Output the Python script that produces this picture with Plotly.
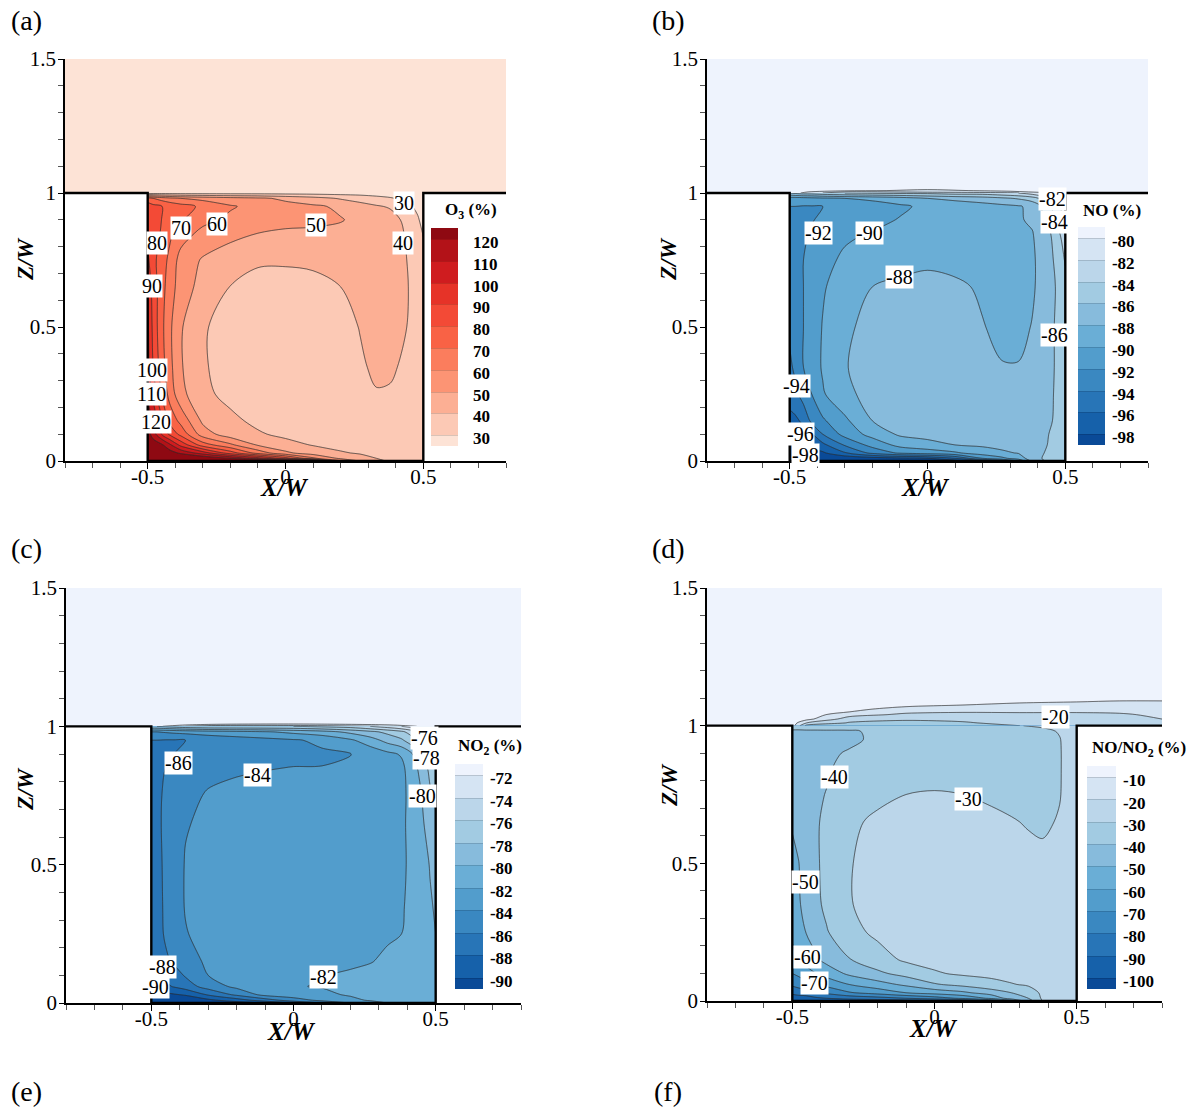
import plotly.graph_objects as go

W, H = 1197, 1110
FONT = "Liberation Serif"

REDS = ["#FDE3D6", "#FCC9B5", "#FCAF94", "#FC9474", "#FB7D5D", "#F96245",
        "#F34A36", "#E63328", "#CF1C1F", "#B31218", "#8E0912"]
BLUES = ["#0A4A97", "#1661AA", "#2875B7", "#3A88C1", "#529DCC", "#6AAED6",
         "#87BBDC", "#A2CBE2", "#BBD6EA", "#D5E4F3", "#EEF3FD"]

X_CANYON = [-.5, -.48, -.45, -.42, -.38, -.3, -.2, -.1, 0, .1, .2, .27, .33, .38, .44, .48, .5]
Z_CANYON = [0, .01, .03, .06, .1, .15, .25, .35, .5, .65, .75, .85, .9, .95, .98, 1]

O3_CANYON = [
    [150, 150, 150, 150, 150, 150, 148, 145, 135, 120, 62, 50, 41, 39.5, 38, 37, 36],
    [140, 140, 140, 138, 135, 130, 120, 105, 85, 62, 48, 44, 40, 38.5, 37, 36, 36],
    [135, 132, 130, 125, 118, 105, 85, 66, 52, 45, 41, 39, 38, 37.5, 36.5, 36, 36],
    [128, 126, 122, 112, 97, 75, 62, 49, 43, 39.5, 37, 36, 35.5, 35, 35, 35, 35],
    [125, 115, 100, 88, 77, 55, 44.5, 41, 38, 36.5, 36, 36, 36, 35.5, 35, 35, 35],
    [118, 108, 92, 77, 67, 48, 42, 38, 36, 35.5, 35.5, 36, 36.5, 36, 35, 35, 35],
    [108, 97, 80, 66, 53, 42, 37.5, 36, 35.5, 35.5, 36, 37, 39.5, 39, 36.5, 35.5, 35],
    [104, 90, 75, 63, 51, 40.8, 37, 35.5, 35, 35, 36, 38.8, 41.5, 41.5, 38, 36, 35],
    [102, 87, 73, 62, 51, 40.8, 37, 35.5, 35, 35, 37, 40.3, 42, 42.5, 40, 37, 35],
    [97, 86, 74, 65, 55, 46.5, 39.8, 37.5, 37, 37, 40, 42.5, 44, 44, 40.5, 37, 34],
    [92, 83, 75, 67.5, 56, 49, 44.5, 41, 41, 42, 43, 44, 45, 45, 40, 36, 33],
    [88, 85, 79, 72, 65, 57, 53, 50, 49, 49.2, 48, 47, 46, 45, 39, 33, 29.5],
    [86, 84, 80, 74, 71, 63, 58, 54, 52, 51, 50.5, 48, 46, 44, 37.5, 31, 27],
    [85, 83, 80.5, 77, 74, 68, 61, 57, 53.5, 51.5, 48.5, 44, 41, 39, 32, 28, 24],
    [75, 70, 66, 63, 60, 57, 54, 52, 48, 44, 39, 36, 33.5, 31, 27, 25, 23],
    [26, 26, 26, 26, 26, 26, 26, 26, 26, 26, 26, 26, 25, 25, 24, 24, 24],
]

NO_CANYON = [
    [-100, -100, -100, -100, -100, -100, -100, -100, -100, -99, -97, -95, -92, -87.5, -85.5, -85, -85],
    [-100, -100, -100, -100, -100, -99.5, -99, -98.5, -98, -96, -92, -90.5, -89, -87, -85.3, -85, -85],
    [-99.5, -99.4, -99.2, -99, -98.3, -96.2, -93.5, -91.7, -91, -90.3, -89, -88.3, -87.9, -87.3, -85.5, -85.2, -85.1],
    [-98.3, -98, -97.6, -97.2, -96.5, -93.8, -91.3, -89.4, -88.8, -88, -87.7, -87.5, -87.3, -87, -85.9, -85.4, -85.3],
    [-97.5, -97.2, -96.7, -96.2, -94, -91.3, -89.3, -87.7, -87.2, -87, -87, -87, -87, -86.9, -86, -85.5, -85.3],
    [-96.7, -96.4, -95.6, -93.5, -92.3, -90.4, -88, -87.2, -86.9, -86.9, -87, -87, -87, -87, -86.2, -85.6, -85.2],
    [-95, -94.6, -93, -92, -90.2, -88.5, -87.3, -87, -86.9, -86.9, -87, -87.2, -87.2, -87.1, -86.3, -85.6, -85.2],
    [-94.5, -93.5, -92, -91, -89.8, -88.1, -87.3, -87, -86.9, -86.9, -87.1, -87.9, -87.9, -87.3, -86.4, -85.6, -85.2],
    [-93.5, -92.9, -92, -91, -89.9, -88.3, -87.5, -87.2, -87.1, -87.2, -87.9, -88.5, -88.6, -87.9, -86.4, -85.6, -85.3],
    [-93, -92.8, -92, -91.2, -90.2, -89, -88, -87.5, -87.2, -87.6, -88.3, -88.8, -88.7, -88.3, -86.6, -85.6, -84.7],
    [-92.7, -92.6, -92, -91.3, -90.5, -89.7, -89.2, -88.9, -88.5, -88.7, -88.7, -88.6, -88.5, -88.3, -86.7, -85, -83.8],
    [-92.5, -92.5, -92.3, -91.8, -91, -90.3, -89.9, -89.4, -89.1, -88.9, -88.7, -88.6, -88.4, -88.1, -86.4, -84, -82.5],
    [-92.5, -92.4, -92.3, -92.1, -91.7, -91, -90.5, -89.9, -89.4, -89, -88.7, -88.5, -88.2, -87.7, -85, -82.8, -81.5],
    [-92, -92, -92.1, -92.1, -92, -91.4, -90.9, -90.3, -89.6, -89.2, -88.8, -88.5, -88.2, -87.5, -84.7, -82, -81],
    [-91, -91, -90.8, -90.6, -90.4, -90, -89.6, -89, -88, -87.5, -87, -86.4, -85.8, -85, -82.5, -81, -80.5],
    [-86, -85.5, -85, -85, -84.5, -84, -83.7, -83.5, -83.5, -83, -83, -82.5, -82, -81, -80, -79.7, -79.5],
]

NO2_CANYON = [
    [-93, -93, -93, -93, -93, -92, -91, -90, -88, -86, -84, -83, -82, -80.8, -80.6, -80.6, -80.5],
    [-92, -92, -92, -92, -91.5, -90.5, -89, -87, -85, -83.5, -82.5, -81.8, -81, -80.7, -80.6, -80.6, -80.5],
    [-91, -90.8, -90.5, -90.2, -89.8, -87.8, -85.6, -83.4, -82.8, -82.4, -81.8, -81.1, -80.8, -80.7, -80.6, -80.6, -80.5],
    [-89.6, -89.3, -88.5, -87.8, -87, -85.1, -83.5, -82.8, -82.1, -81.9, -81.3, -81, -80.8, -80.7, -80.6, -80.6, -80.5],
    [-88.2, -87.9, -87.4, -86.9, -85.8, -84, -83.2, -82.9, -82.6, -82.1, -81.7, -81.4, -81, -80.9, -80.7, -80.6, -80.5],
    [-87.9, -87.4, -86.4, -85.7, -85, -83.6, -83.1, -82.9, -82.7, -82.6, -82.4, -82.1, -81.6, -81.2, -80.7, -80.4, -80.3],
    [-87.7, -86.9, -85.7, -84.9, -84.1, -83.4, -83, -82.8, -82.7, -82.6, -82.5, -82.4, -82.3, -82, -80.9, -80.3, -80],
    [-87.5, -86.8, -85.6, -84.8, -83.9, -83.3, -83, -82.8, -82.7, -82.6, -82.5, -82.5, -82.4, -82.2, -81, -80.2, -79.8],
    [-87.2, -86.6, -85.6, -84.8, -83.9, -83.3, -83, -82.9, -82.8, -82.7, -82.6, -82.5, -82.4, -82.3, -81.2, -79.9, -79.3],
    [-87, -86.4, -85.6, -85, -84.1, -83.7, -83.3, -83, -82.9, -82.8, -82.7, -82.6, -82.5, -82.4, -80.7, -79.2, -78.6],
    [-86.8, -86.4, -85.7, -85.2, -84.6, -83.8, -83.4, -83.2, -83, -82.9, -82.8, -82.7, -82.6, -82.5, -80.6, -78.3, -77.5],
    [-86.5, -86.4, -86, -85.5, -85, -84.6, -84.3, -84.1, -83.95, -83.95, -83.7, -83.4, -83, -82.5, -79.8, -77.5, -76],
    [-86.4, -86.4, -86.3, -86, -85.7, -85.2, -84.9, -84.7, -84.5, -84.3, -84.05, -83.3, -82.5, -81.8, -79, -76.5, -75],
    [-86, -86, -86.1, -86.1, -86, -85.4, -85, -84.6, -84.2, -83.6, -82.3, -80.9, -79.3, -78.3, -75.8, -74.5, -74],
    [-84, -84, -83.8, -83.6, -83.4, -83, -82.6, -82.2, -81.5, -80.8, -79.5, -78.5, -77.5, -76.5, -74, -73, -72.5],
    [-78, -78, -77.5, -77, -76.5, -76, -76, -76, -76, -75.5, -75, -74, -73, -72, -71, -71, -71],
]

RATIO_CANYON = [
    [-98, -98, -98, -98, -98, -97, -97, -96, -95, -92, -80, -65, -45, -30, -27, -26, -26],
    [-95, -95, -95, -92, -90, -87, -84, -80, -75, -68, -58, -45, -40, -28.5, -27, -26, -26],
    [-88, -86, -84, -81, -78, -71, -66, -60, -56, -52, -45, -40, -34, -28.5, -27, -26, -26],
    [-78, -76, -73, -70, -67, -60, -54, -48, -41, -37, -33, -30.5, -29, -28, -27, -26, -26],
    [-70, -68, -64, -60.5, -56, -48, -42, -36.5, -31, -28.5, -27.5, -27, -26.8, -26.8, -26.5, -26, -26],
    [-63, -60, -56, -52, -47, -40.5, -34, -28.5, -27, -26.5, -26.5, -26.5, -26.5, -26.5, -26.5, -26, -26],
    [-58, -54.5, -49.5, -45.5, -40.8, -33, -28, -26, -25.5, -25.5, -25.5, -26, -26.5, -26.5, -26.5, -26, -26],
    [-55.5, -51.5, -46.5, -42.5, -38, -30.5, -27, -25.5, -25, -25, -25.5, -26, -26.5, -27, -27, -26.5, -26],
    [-54, -50.7, -45, -41.5, -37.7, -30.5, -27, -25.5, -25, -25, -26, -27, -28, -28.5, -27.5, -27, -26.5],
    [-48.5, -46, -43, -41, -38.5, -32, -28, -26.5, -26, -26.5, -28, -29.5, -30.5, -31, -29.5, -27.5, -26.5],
    [-45, -43.5, -42, -41, -39.8, -36, -32.5, -30, -29.5, -30, -31.5, -32, -32.5, -32.5, -30.3, -27.5, -26.5],
    [-43, -42.5, -42, -41.5, -40.8, -38, -35, -33.5, -33, -33, -33, -33, -33, -33, -30.5, -27, -26],
    [-43, -42.8, -42.3, -42, -41.3, -39.3, -35.5, -34, -33.5, -33.5, -33.5, -33.5, -33.5, -33.2, -30.5, -27, -26],
    [-42.5, -42.5, -42.3, -42, -41.7, -41.5, -38.5, -34.5, -34, -34, -33.7, -33.5, -33.2, -32.8, -30.3, -27, -26],
    [-41.5, -41.3, -41, -41, -41, -41, -38.5, -34, -33.5, -33, -32.5, -32.3, -32, -31.5, -29.5, -27, -26],
    [-35, -36, -36, -36, -35.5, -35, -33.5, -32.5, -32, -31.5, -31, -30.5, -29.8, -29, -27, -26, -25],
]

X_SKY = [-.8, -.5, -.3, 0, .3, .5, .8]
Z_SKY = [1, 1.004, 1.009, 1.02, 1.5]
O3_SKY = [
    [25, 25, 25, 25, 25, 25, 25],
    [25, 25, 25, 25, 25, 25, 25],
    [25, 25, 25, 25, 25, 25, 25],
    [25, 25, 25, 25, 25, 25, 25],
    [25, 25, 25, 25, 25, 25, 25],
]
NO_SKY = [
    [-79, -79, -84, -83.5, -82.5, -79.5, -79],
    [-79, -79, -82, -81.5, -80.5, -79, -79],
    [-79, -79, -79.5, -80.5, -79.5, -79, -79],
    [-79, -79, -79, -79, -79, -79, -79],
    [-79, -79, -79, -79, -79, -79, -79],
]
NO2_SKY = [
    [-71, -71, -76, -76, -74, -71, -71],
    [-71, -71, -73, -73.5, -72.5, -71, -71],
    [-71, -71, -71.3, -71.8, -71.2, -71, -71],
    [-71, -71, -71, -71, -71, -71, -71],
    [-71, -71, -71, -71, -71, -71, -71],
]
X_SKY_RATIO = [-.8, -.5, -.45, -.3, -.1, .1, .3, .5, .65, .8]
Z_SKY_RATIO = [1, 1.01, 1.024, 1.04, 1.05, 1.06, 1.075, 1.09, 1.12, 1.5]
RATIO_SKY = [
    [-5, -5, -33, -34, -32.5, -31.5, -30, -26, -25, -24],
    [-5, -5, -20, -31, -31.5, -30.7, -28, -25, -24, -23],
    [-5, -5, -7, -25, -29.2, -28.5, -25.5, -24, -23, -20],
    [-5, -5, -5, -16, -22, -22.7, -21.7, -21.5, -21, -18.5],
    [-5, -5, -5, -10, -18, -19.4, -19.4, -19.5, -19, -17],
    [-5, -5, -5, -8, -13, -16, -17, -17, -16.5, -15],
    [-5, -5, -5, -5, -8, -10, -12, -13, -13, -12],
    [-5, -5, -5, -5, -5, -6, -8, -9, -10, -10],
    [-5, -5, -5, -5, -5, -5, -5, -5, -5, -5],
    [-5, -5, -5, -5, -5, -5, -5, -5, -5, -5],
]

WALL_X = [-.8, -.5, -.5, .5, .5, .8]
WALL_Z = [1, 1, 0, 0, 1, 1]

O3_LEVELS = ["30", "40", "50", "60", "70", "80", "90", "100", "110", "120"]
NO_LEVELS = ["-98", "-96", "-94", "-92", "-90", "-88", "-86", "-84", "-82", "-80"]
NO2_LEVELS = ["-90", "-88", "-86", "-84", "-82", "-80", "-78", "-76", "-74", "-72"]
RATIO_LEVELS = ["-100", "-90", "-80", "-70", "-60", "-50", "-40", "-30", "-20", "-10"]

O3_LABELS = [("30", .43, .963), ("40", .427, .813), ("50", .111, .881), ("60", -.249, .884),
             ("70", -.379, .869), ("80", -.466, .813), ("90", -.484, .653),
             ("100", -.484, .339), ("110", -.487, .25), ("120", -.469, .146)]
NO_LABELS = [("-82", .452, .978), ("-84", .459, .892), ("-92", -.397, .851), ("-90", -.209, .851),
             ("-88", -.1, .687), ("-86", .459, .47), ("-94", -.477, .28), ("-96", -.46, .101),
             ("-98", -.442, .022)]
NO2_LABELS = [("-76", .459, .958), ("-78", .469, .886), ("-80", .455, .748), ("-86", -.406, .867),
              ("-84", -.125, .824), ("-82", .107, .094), ("-88", -.462, .13), ("-90", -.487, .058)]
RATIO_LABELS = [("-20", .427, 1.033), ("-40", -.35, .815), ("-30", .12, .735), ("-50", -.454, .433),
                ("-60", -.447, .16), ("-70", -.422, .065)]

PANELS = [
    dict(box=(65, 506, 59, 461), z=O3_CANYON, sx=X_SKY, sz=Z_SKY, sky=O3_SKY, levels=O3_LEVELS, colors=REDS,
         labels=O3_LABELS, bar=(431, 458, 228, 446), gap=12, title="O<sub>3</sub> (%)", tpos=(471, 211),
         xt=(284, 488), zt=(25, 260)),
    dict(box=(707, 1148, 59, 461), z=NO_CANYON, sx=X_SKY, sz=Z_SKY, sky=NO_SKY, levels=NO_LEVELS, colors=BLUES,
         labels=NO_LABELS, bar=(1078, 1105, 227, 445), gap=4, title="NO (%)", tpos=(1112, 210),
         xt=(925, 488), zt=(668, 260)),
    dict(box=(66, 521, 588, 1003), z=NO2_CANYON, sx=X_SKY, sz=Z_SKY, sky=NO2_SKY, levels=NO2_LEVELS, colors=BLUES,
         labels=NO2_LABELS, bar=(455, 483, 764, 989), gap=4, title="NO<sub>2</sub> (%)", tpos=(490, 747),
         xt=(291, 1031), zt=(26, 790)),
    dict(box=(707, 1162, 588, 1001), z=RATIO_CANYON, sx=X_SKY_RATIO, sz=Z_SKY_RATIO, sky=RATIO_SKY, levels=RATIO_LEVELS,
         colors=BLUES, labels=RATIO_LABELS, bar=(1087, 1116, 766, 989), gap=4, title="NO/NO<sub>2</sub> (%)", tpos=(1139, 749),
         xt=(933, 1028), zt=(669, 786)),
]
PANEL_TAGS = [("(a)", 26, 20), ("(b)", 668, 20), ("(c)", 26, 548), ("(d)", 668, 548), ("(e)", 26, 1091), ("(f)", 668, 1091)]

fig = go.Figure()
annots = []


def paper(px, py):
    return dict(x=px / W, y=1 - py / H, xref="paper", yref="paper", xanchor="center", yanchor="middle", showarrow=False)


layout = {}
for i, p in enumerate(PANELS):
    n = "" if i == 0 else str(i + 1)
    xa, ya = f"x{n}", f"y{n}"
    l, r, t, b = p["box"]
    scale = [[k / 10, c] for k, c in enumerate(p["colors"])]
    values = [float(v) for v in p["levels"]]
    start, size = values[0], values[1] - values[0]
    contours = dict(start=start, end=values[-1], size=size, coloring="fill", showlines=True)
    line_contours = dict(start=start, end=values[-1], size=size, coloring="none", showlines=True)
    faint = dict(color="rgba(0,0,0,0.14)", width=1, smoothing=0.9)
    dark = dict(color="#303030", width=0.6, smoothing=0.9)
    bl, br, bt, bb = p["bar"]
    fig.add_trace(go.Contour(
        x=p["sx"], y=p["sz"], z=p["sky"], xaxis=xa, yaxis=ya, autocontour=False, contours=contours,
        colorscale=scale, line=faint, showscale=False, hoverinfo="skip"))
    fig.add_trace(go.Contour(
        x=p["sx"], y=p["sz"], z=p["sky"], xaxis=xa, yaxis=ya, autocontour=False, contours=line_contours,
        line=dark, showscale=False, hoverinfo="skip"))
    fig.add_trace(go.Contour(
        x=X_CANYON, y=Z_CANYON, z=p["z"], xaxis=xa, yaxis=ya, autocontour=False, contours=contours,
        colorscale=scale, line=faint, hoverinfo="skip",
        colorbar=dict(
            x=bl / W, xanchor="left", xpad=0, y=1 - (bt + bb) / 2 / H, yanchor="middle", ypad=0,
            len=bb - bt, lenmode="pixels", thickness=br - bl, thicknessmode="pixels",
            outlinewidth=0, ticks="outside", ticklen=p["gap"], tickcolor="rgba(0,0,0,0)",
            tickmode="array", tickvals=[v - 0.14 * size for v in values], ticktext=p["levels"],
            tickfont=dict(family=FONT, size=17, color="black", weight="bold"))))
    fig.add_trace(go.Contour(
        x=X_CANYON, y=Z_CANYON, z=p["z"], xaxis=xa, yaxis=ya, autocontour=False, contours=line_contours,
        line=dark, showscale=False, hoverinfo="skip"))
    fig.add_trace(go.Scatter(
        x=WALL_X, y=WALL_Z, xaxis=xa, yaxis=ya, mode="lines", cliponaxis=False,
        line=dict(color="black", width=2.4), hoverinfo="skip", showlegend=False))

    common = dict(showgrid=False, zeroline=False, showline=True, linecolor="black", ticks="outside",
                  tickcolor="black", tickfont=dict(family=FONT, size=21, color="black"))
    layout[f"xaxis{n}"] = dict(domain=[l / W, r / W], range=[-.8, .8], anchor=ya, linewidth=2, ticklen=6, tickwidth=1.2,
                               ticklabelstandoff=-10, tickvals=[-.5, 0, .5], ticktext=["-0.5", "0", "0.5"],
                               minor=dict(ticks="outside", tickvals=[-.8, -.7, -.6, -.4, -.3, -.2, -.1, .1, .2, .3, .4, .6, .7, .8],
                                          ticklen=5, tickwidth=.7, tickcolor="#555"), **common)
    layout[f"yaxis{n}"] = dict(domain=[1 - b / H, 1 - t / H], range=[0, 1.5], anchor=xa, linewidth=1.5, ticklen=5, tickwidth=1.2,
                               ticklabelstandoff=-2, tickvals=[0, .5, 1, 1.5], ticktext=["0", "0.5", "1", "1.5"],
                               minor=dict(ticks="outside", tickvals=[.1, .2, .3, .4, .6, .7, .8, .9, 1.1, 1.2, 1.3, 1.4],
                                          ticklen=5, tickwidth=.7, tickcolor="#555"), **common)
    for text, lx, lz in p["labels"]:
        annots.append(dict(x=lx, y=lz, xref=xa, yref=ya, text=text, showarrow=False, bgcolor="white", borderpad=0,
                           font=dict(family=FONT, size=20, color="black")))
    annots.append(dict(text=f"<b>{p['title']}</b>", font=dict(family=FONT, size=17, color="black"), **paper(*p["tpos"])))
    annots.append(dict(text="<b><i>X/W</i></b>", font=dict(family=FONT, size=25, color="black"), **paper(*p["xt"])))
    annots.append(dict(text="<b><i>Z/W</i></b>", textangle=-90, font=dict(family=FONT, size=23, color="black"), **paper(*p["zt"])))

for tag, px, py in PANEL_TAGS:
    annots.append(dict(text=tag, font=dict(family=FONT, size=28, color="black"), **paper(px, py)))

fig.update_layout(width=W, height=H, margin=dict(l=0, r=0, t=0, b=0, autoexpand=False), paper_bgcolor="white",
                  plot_bgcolor="white", showlegend=False, annotations=annots, **layout)
fig.write_html("out.html", config=dict(displayModeBar=False),
               post_script="document.body.style.margin='0';document.body.style.overflow='hidden';")
